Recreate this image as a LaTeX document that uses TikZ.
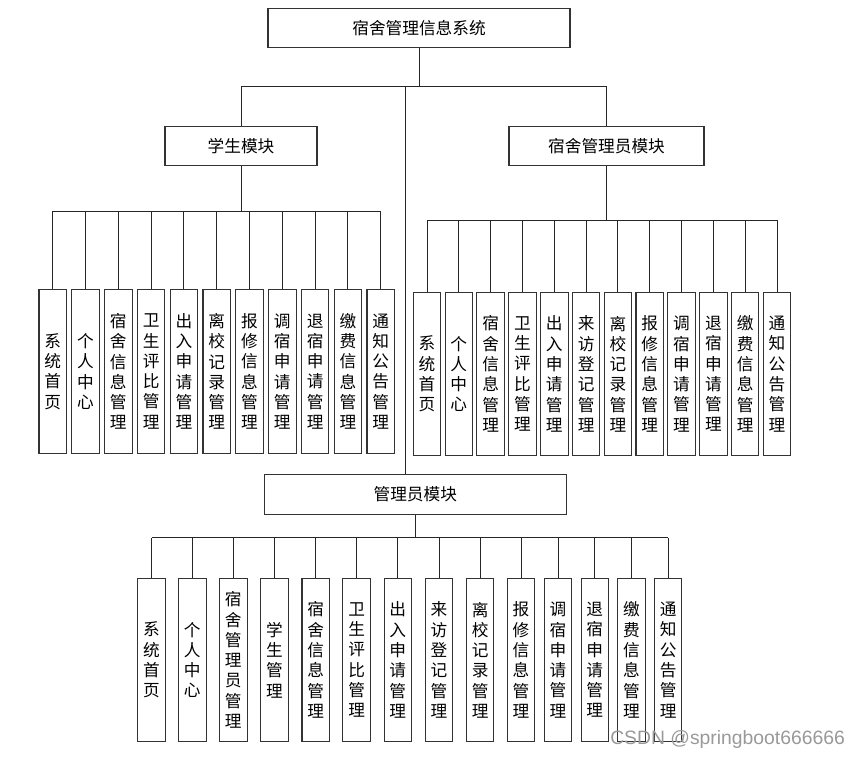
\documentclass[tikz,border=0pt]{standalone}
\usepackage{fontspec}
\setmainfont{Noto Sans CJK SC}
\newfontfamily\wmfont{Liberation Sans}
\usepackage{tikz}

\begin{document}
\begin{tikzpicture}[x=0.75pt,y=0.75pt,yscale=-1,xscale=1,
  modbox/.style={draw=black!80,line width=0.8pt,inner sep=0pt,minimum height=29.5pt,font=\fontsize{12.5}{15}\selectfont},
  leaf/.style={draw=black!80,line width=0.8pt,inner sep=0pt,minimum width=20.6pt,minimum height=122.5pt,align=center,font=\fontsize{12.5}{15.2}\selectfont},
  link/.style={black!85,line width=0.7pt}]
\useasboundingbox (0,0) rectangle (860,759);

%Shape: top and module boxes
\node[modbox,minimum width=226.5pt] (sys) at (419,28) {宿舍管理信息系统};
\node[modbox,minimum width=114pt] (stu) at (241,146) {学生模块};
\node[modbox,minimum width=146.25pt] (mgr) at (606.5,146) {宿舍管理员模块};
\node[modbox,minimum width=226.5pt] (adm) at (415.3,494.5) {管理员模块};

%bus lines
\coordinate (topbus) at (0,86.7);
\coordinate (trunk) at (405.5,86.7);
\coordinate (sbus) at (0,211);
\coordinate (mbus) at (0,220.3);
\coordinate (abus) at (0,537.5);

% Student children
\node[leaf] (s1) at (52.7,371.5) {系\\统\\首\\页};
\node[leaf] (s2) at (85.5,371.5) {个\\人\\中\\心};
\node[leaf] (s3) at (118.3,371.5) {宿\\舍\\信\\息\\管\\理};
\node[leaf] (s4) at (151.1,371.5) {卫\\生\\评\\比\\管\\理};
\node[leaf] (s5) at (183.9,371.5) {出\\入\\申\\请\\管\\理};
\node[leaf] (s6) at (216.7,371.5) {离\\校\\记\\录\\管\\理};
\node[leaf] (s7) at (249.5,371.5) {报\\修\\信\\息\\管\\理};
\node[leaf] (s8) at (282.3,371.5) {调\\宿\\申\\请\\管\\理};
\node[leaf] (s9) at (315.1,371.5) {退\\宿\\申\\请\\管\\理};
\node[leaf] (s10) at (347.9,371.5) {缴\\费\\信\\息\\管\\理};
\node[leaf] (s11) at (380.7,371.5) {通\\知\\公\\告\\管\\理};

% Dorm manager children
\node[leaf] (m1) at (427,374) {系\\统\\首\\页};
\node[leaf] (m2) at (458.8,374) {个\\人\\中\\心};
\node[leaf] (m3) at (490.6,374) {宿\\舍\\信\\息\\管\\理};
\node[leaf] (m4) at (522.5,374) {卫\\生\\评\\比\\管\\理};
\node[leaf] (m5) at (554.3,374) {出\\入\\申\\请\\管\\理};
\node[leaf] (m6) at (586.1,374) {来\\访\\登\\记\\管\\理};
\node[leaf] (m7) at (617.9,374) {离\\校\\记\\录\\管\\理};
\node[leaf] (m8) at (649.7,374) {报\\修\\信\\息\\管\\理};
\node[leaf] (m9) at (681.5,374) {调\\宿\\申\\请\\管\\理};
\node[leaf] (m10) at (713.4,374) {退\\宿\\申\\请\\管\\理};
\node[leaf] (m11) at (745.2,374) {缴\\费\\信\\息\\管\\理};
\node[leaf] (m12) at (777,374) {通\\知\\公\\告\\管\\理};

% Admin children
\node[leaf] (a1) at (151.5,660) {系\\统\\首\\页};
\node[leaf] (a2) at (192.3,660) {个\\人\\中\\心};
\node[leaf] (a3) at (233.3,660) {宿\\舍\\管\\理\\员\\管\\理};
\node[leaf] (a4) at (274.4,660) {学\\生\\管\\理};
\node[leaf] (a5) at (315.7,660) {宿\\舍\\信\\息\\管\\理};
\node[leaf] (a6) at (356.6,660) {卫\\生\\评\\比\\管\\理};
\node[leaf] (a7) at (397.8,660) {出\\入\\申\\请\\管\\理};
\node[leaf] (a8) at (439,660) {来\\访\\登\\记\\管\\理};
\node[leaf] (a9) at (480.2,660) {离\\校\\记\\录\\管\\理};
\node[leaf] (a10) at (521,660) {报\\修\\信\\息\\管\\理};
\node[leaf] (a11) at (558,660) {调\\宿\\申\\请\\管\\理};
\node[leaf] (a12) at (594.8,660) {退\\宿\\申\\请\\管\\理};
\node[leaf] (a13) at (631.5,660) {缴\\费\\信\\息\\管\\理};
\node[leaf] (a14) at (668.2,660) {通\\知\\公\\告\\管\\理};

% Connectors, top level
\draw[link] (sys.south) -- (sys.south |- topbus);
\draw[link] (stu.north) -- (stu.north |- topbus) -- (mgr.north |- topbus) -- (mgr.north);
\draw[link] (trunk) -- (trunk |- adm.north);

% Connectors, student module
\draw[link] (stu.south) -- (stu.south |- sbus);
\draw[link] (s1.north |- sbus) -- (s11.north |- sbus);
\draw[link] (s1.north) -- (s1.north |- sbus) (s2.north) -- (s2.north |- sbus)
  (s3.north) -- (s3.north |- sbus) (s4.north) -- (s4.north |- sbus)
  (s5.north) -- (s5.north |- sbus) (s6.north) -- (s6.north |- sbus)
  (s7.north) -- (s7.north |- sbus) (s8.north) -- (s8.north |- sbus)
  (s9.north) -- (s9.north |- sbus) (s10.north) -- (s10.north |- sbus)
  (s11.north) -- (s11.north |- sbus);

% Connectors, dorm manager module
\draw[link] (mgr.south) -- (mgr.south |- mbus);
\draw[link] (m1.north |- mbus) -- (m12.north |- mbus);
\draw[link] (m1.north) -- (m1.north |- mbus) (m2.north) -- (m2.north |- mbus)
  (m3.north) -- (m3.north |- mbus) (m4.north) -- (m4.north |- mbus)
  (m5.north) -- (m5.north |- mbus) (m6.north) -- (m6.north |- mbus)
  (m7.north) -- (m7.north |- mbus) (m8.north) -- (m8.north |- mbus)
  (m9.north) -- (m9.north |- mbus) (m10.north) -- (m10.north |- mbus)
  (m11.north) -- (m11.north |- mbus) (m12.north) -- (m12.north |- mbus);

% Connectors, admin module
\draw[link] (adm.south) -- (adm.south |- abus);
\draw[link] (a1.north |- abus) -- (a14.north |- abus);
\draw[link] (a1.north) -- (a1.north |- abus) (a2.north) -- (a2.north |- abus)
  (a3.north) -- (a3.north |- abus) (a4.north) -- (a4.north |- abus)
  (a5.north) -- (a5.north |- abus) (a6.north) -- (a6.north |- abus)
  (a7.north) -- (a7.north |- abus) (a8.north) -- (a8.north |- abus)
  (a9.north) -- (a9.north |- abus) (a10.north) -- (a10.north |- abus)
  (a11.north) -- (a11.north |- abus) (a12.north) -- (a12.north |- abus)
  (a13.north) -- (a13.north |- abus) (a14.north) -- (a14.north |- abus);

% Text Node, watermark
\node[anchor=west,inner sep=0pt,text=black!40,font=\wmfont\fontsize{14.5}{17}\selectfont] (wm) at (610,739) {CSDN @springboot666666};

\end{tikzpicture}
\end{document}
